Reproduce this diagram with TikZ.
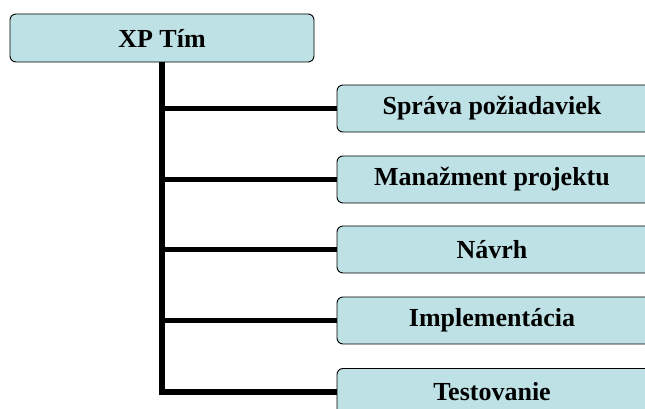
\documentclass[tikz,border=0pt]{standalone}
\usepackage{fontspec}
\setmainfont{Liberation Serif}
\usepackage{tikz}
\definecolor{boxcyan}{RGB}{189,225,228}

\tikzset{
  teambox/.style={draw=black, line width=0.9pt, fill=boxcyan, rounded corners=6pt,
    minimum width=304pt, minimum height=48pt, inner sep=0pt,
    font=\fontsize{26}{30}\selectfont\bfseries},
  rolebox/.style={teambox, minimum width=316pt, minimum height=47pt},
  branch/.style={line width=5.5pt}
}

\begin{document}
\begin{tikzpicture}[x=1pt, y=-1pt]
        % Okraje obrazka
        \useasboundingbox (0,0) rectangle (645,409);
        \clip (0,0) rectangle (645,409);

        % Hlavny uzol
        \node[teambox] (tim) at (162,38) {XP Tím};

        % Podriadene uzly (roly)
        \node[rolebox] (sprava) at (495,108.5) {\hspace*{-6pt}Správa požiadaviek};
        \node[rolebox] (manazment) at (495,179.5) {\hspace*{-6pt}Manažment projektu};
        \node[rolebox] (navrh) at (495,249.5) {\hspace*{-6pt}Návrh};
        \node[rolebox] (impl) at (495,320.5) {\hspace*{-6pt}Implementácia};
        \node[rolebox] (test) at (495,392) {\hspace*{-6pt}Testovanie};

        % Spojnice
        \foreach \r in {sprava, manazment, navrh, impl, test}
            \draw[branch] (tim.south) |- (\r.west);

    \end{tikzpicture}
\end{document}
